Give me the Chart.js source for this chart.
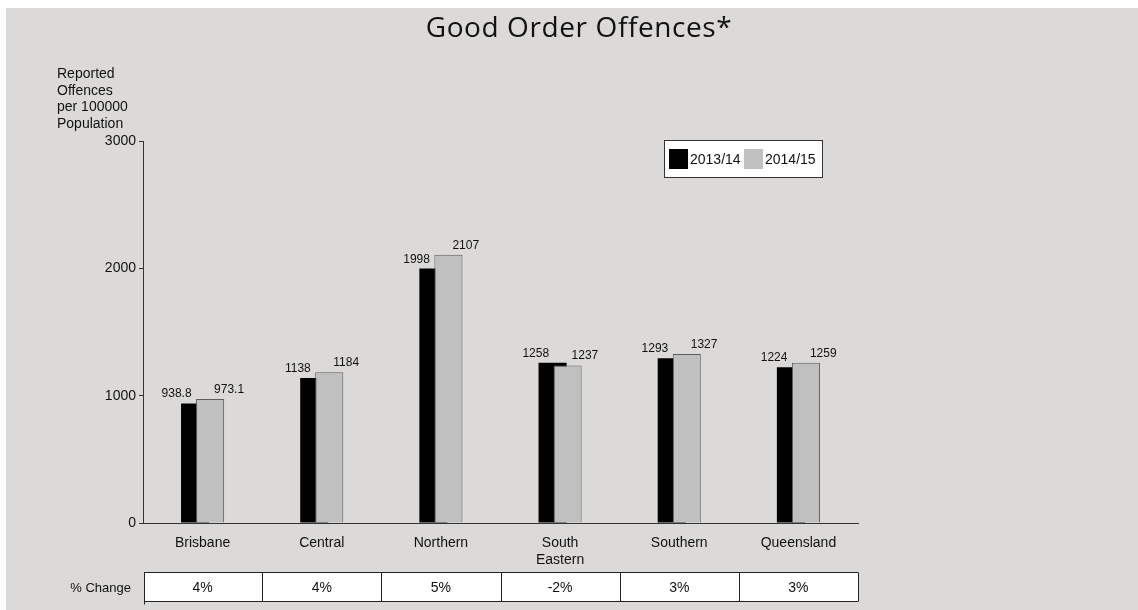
<!DOCTYPE html>
<html>
<head>
<meta charset="utf-8">
<title>Good Order Offences</title>
<script src="https://cdn.jsdelivr.net/npm/chart.js@4/dist/chart.umd.min.js"></script>
<style>
  html, body { margin: 0; padding: 0; background: #fff; }
  #wrap { width: 1138px; height: 610px; }
</style>
</head>
<body>
<div id="wrap"><canvas id="chart" width="1138" height="610"></canvas></div>
<script>
// Data
const regions = ["Brisbane", "Central", "Northern", ["South", "Eastern"], "Southern", "Queensland"];
const years = ["2013/14", "2014/15"];
const rate1314 = [938.8, 1138, 1998, 1258, 1293, 1224];
const rate1415 = [973.1, 1184, 2107, 1237, 1327, 1259];
const pctChange = [4, 4, 5, -2, 3, 3];
const yTicks = [0, 1000, 2000, 3000];
const yTitle = ["Reported", "Offences", "per 100000", "Population"];
const chartTitle = "Good Order Offences*";

const FONT = "'Liberation Sans', Arial, sans-serif";
const BG = "#dbdad8";
const colors = ["#000000", "#c0c0c0"];

Chart.defaults.font.family = FONT;
Chart.defaults.color = "#111";

// grey bars overlap the black ones, so draw them last
const overlapBars = {
  id: "overlapBars",
  beforeDatasetDraw(chart, args) {
    if (args.index === 1) return false;
  },
  afterDatasetsDraw(chart) {
    const c = chart.ctx;
    chart.getDatasetMeta(1).controller.draw();

    // value labels
    c.save();
    c.font = "12px " + FONT;
    c.fillStyle = "#111";
    c.textBaseline = "alphabetic";
    chart.data.datasets.forEach((ds, di) => {
      chart.getDatasetMeta(di).data.forEach((bar, i) => {
        if (di === 0) { c.textAlign = "right"; c.fillText(String(ds.data[i]), bar.x - 3.5, bar.y - 6); }
        else { c.textAlign = "left"; c.fillText(String(ds.data[i]), bar.x + 4, bar.y - 6); }
      });
    });
    c.restore();
  }
};

// background, title, axis title, legend and % change table
const decor = {
  id: "decor",
  beforeDraw(chart) {
    const c = chart.ctx;
    c.save();
    c.fillStyle = "#fff";
    c.fillRect(0, 0, chart.width, chart.height);
    c.fillStyle = BG;
    c.fillRect(6, 8, chart.width - 6, chart.height - 8);
    c.restore();
  },
  afterDraw(chart) {
    const c = chart.ctx;
    const area = chart.chartArea;
    c.save();

    // title
    c.fillStyle = "#111";
    c.font = "28px 'Open Sans', sans-serif";
    c.letterSpacing = "0.6px";
    c.textAlign = "center";
    c.textBaseline = "alphabetic";
    c.fillText(chartTitle, 579, 37);
    c.letterSpacing = "0px";

    // y axis title
    c.font = "14px " + FONT;
    c.textAlign = "left";
    c.textBaseline = "middle";
    yTitle.forEach((t, i) => c.fillText(t, 57, 74 + i * 16.7));

    // legend
    const lx = 664.5, ly = 140.5;
    c.fillStyle = "#fff";
    c.fillRect(lx, ly, 158, 37);
    c.strokeStyle = "#333";
    c.lineWidth = 1;
    c.strokeRect(lx, ly, 158, 37);
    let x = 669;
    chart.data.datasets.forEach((ds, i) => {
      c.fillStyle = colors[i];
      c.fillRect(x, 149, 19, 20);
      c.fillStyle = "#111";
      c.fillText(ds.label, x + 21, 160);
      x += 75;
    });

    // % change table
    const n = chart.data.labels.length;
    const w = (area.right - area.left) / n;
    const top = 572.5, h = 29;
    c.fillStyle = "#fff";
    c.fillRect(area.left + 1, top, area.right - area.left - 1, h);
    c.strokeStyle = "#222";
    c.beginPath();
    c.moveTo(area.left + 1, top); c.lineTo(area.right, top);
    c.moveTo(area.left + 1, top + h); c.lineTo(area.right, top + h);
    for (let i = 0; i <= n; i++) {
      const px = Math.round(area.left + i * w) + 0.5 + (i === 0 ? 1 : 0);
      c.moveTo(px, top); c.lineTo(px, top + h + (i === 0 ? 3 : 0));
    }
    c.stroke();
    c.fillStyle = "#111";
    c.textAlign = "center";
    pctChange.forEach((p, i) => c.fillText(p + "%", area.left + (i + 0.5) * w, top + h / 2 + 1));
    c.font = "13px " + FONT;
    c.textAlign = "right";
    c.fillText("% Change", 131, top + h / 2 + 1);
    c.restore();
  }
};

new Chart(document.getElementById("chart"), {
  type: "bar",
  data: {
    labels: regions,
    datasets: [
      { label: years[0], data: rate1314, backgroundColor: colors[0], borderWidth: 0 },
      { label: years[1], data: rate1415, backgroundColor: colors[1], borderColor: "#5c5c5c", borderWidth: 1 }
    ]
  },
  options: {
    responsive: false,
    animation: false,
    events: [],
    datasets: { bar: { barPercentage: 1.87, categoryPercentage: 0.252 } },
    layout: { padding: { left: 0, right: 280, top: 141, bottom: 0 } },
    plugins: { legend: { display: false }, tooltip: { enabled: false }, title: { display: false } },
    scales: {
      x: {
        grid: { display: true, drawOnChartArea: false, drawTicks: false, color: "#333" },
        border: { display: true, color: "#333", width: 1 },
        ticks: { font: { size: 14 }, padding: 12, color: "#111", maxRotation: 0, autoSkip: false },
        afterFit: s => { s.height = 87; }
      },
      y: {
        min: 0,
        max: 3000,
        afterBuildTicks: s => { s.ticks = yTicks.map(v => ({ value: v })); },
        grid: { display: true, drawOnChartArea: false, tickLength: 4, color: "#333" },
        border: { display: true, color: "#333", width: 1 },
        ticks: { font: { size: 14 }, padding: 3, color: "#111", callback: v => String(v) },
        afterFit: s => { s.width = 143; }
      }
    }
  },
  plugins: [decor, overlapBars]
});
</script>
</body>
</html>
